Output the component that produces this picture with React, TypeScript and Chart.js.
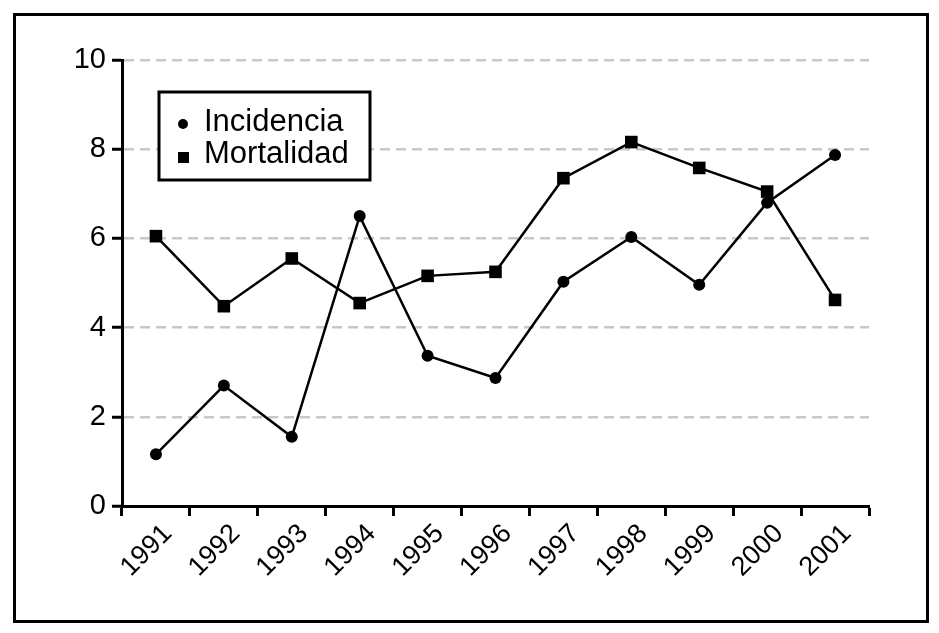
import React, { useEffect, useRef } from "react";
import { Chart, registerables } from "chart.js";

Chart.register(...registerables);

const years = ["1991", "1992", "1993", "1994", "1995", "1996", "1997", "1998", "1999", "2000", "2001"];
const incidencia = [1.16, 2.7, 1.55, 6.5, 3.37, 2.87, 5.03, 6.03, 4.96, 6.8, 7.87];
const mortalidad = [6.05, 4.48, 5.55, 4.55, 5.16, 5.25, 7.35, 8.16, 7.58, 7.05, 4.62];
const yTicks = [0, 2, 4, 6, 8, 10];

const FONT = "'Liberation Sans', Arial, Helvetica, sans-serif";

const framePlugin = {
  id: "frame",
  afterDraw(chart: any) {
    const ctx = chart.ctx;
    ctx.save();
    // outer border
    ctx.strokeStyle = "#000";
    ctx.lineWidth = 3;
    ctx.strokeRect(14.5, 14.5, 913, 607);
    // legend box
    ctx.lineWidth = 3;
    ctx.fillStyle = "#fff";
    ctx.fillRect(159, 92, 211, 88);
    ctx.strokeRect(159, 92, 211, 88);
    ctx.fillStyle = "#000";
    ctx.font = "31px " + FONT;
    ctx.textBaseline = "alphabetic";
    ctx.textAlign = "left";
    const ds = chart.data.datasets;
    // circle
    ctx.beginPath();
    ctx.arc(183, 124, 5, 0, Math.PI * 2);
    ctx.fill();
    ctx.fillText(ds[0].label, 204, 131);
    // square
    ctx.fillRect(178, 152, 11, 11);
    ctx.fillText(ds[1].label, 204, 163);
    ctx.restore();
  },
};

export default function App() {
  const ref = useRef<HTMLCanvasElement>(null);
  useEffect(() => {
    const chart = new Chart(ref.current!, {
      type: "line",
      data: {
        labels: years,
        datasets: [
          {
            label: "Incidencia",
            data: incidencia,
            borderColor: "#000",
            backgroundColor: "#000",
            borderWidth: 2.5,
            pointStyle: "circle",
            pointRadius: 6,
            pointBorderWidth: 0,
            tension: 0,
          },
          {
            label: "Mortalidad",
            data: mortalidad,
            borderColor: "#000",
            backgroundColor: "#000",
            borderWidth: 2.5,
            pointStyle: "rect",
            pointRadius: 8.9,
            pointBorderWidth: 0,
            tension: 0,
          },
        ],
      },
      options: {
        animation: false,
        responsive: false,
        layout: { padding: { left: 0, right: 70, top: 60, bottom: 0 } },
        plugins: { legend: { display: false }, tooltip: { enabled: false } },
        scales: {
          x: {
            offset: true,
            grid: {
              offset: true,
              drawOnChartArea: false,
              tickLength: 10,
              tickColor: "#000",
              tickWidth: 3,
            },
            border: { color: "#000", width: 3 },
            ticks: {
              color: "#000",
              font: { size: 27, family: FONT },
              minRotation: 45,
              maxRotation: 45,
              padding: 2,
              labelOffset: 12,
            },
            afterFit: (s: any) => {
              s.height = 127;
            },
          },
          y: {
            min: 0,
            max: 10,
            afterBuildTicks: (s: any) => {
              s.ticks = yTicks.map((v) => ({ value: v }));
            },
            grid: {
              color: (c: any) => (c.tick && c.tick.value === 0 ? "rgba(0,0,0,0)" : "#c8c8c8"),
              lineWidth: 2.5,
              tickLength: 10,
              tickColor: "#000",
              tickWidth: 3,
              tickBorderDash: [],
            } as any,
            border: { color: "#000", width: 3, dash: [10, 6] } as any,
            ticks: {
              color: "#000",
              font: { size: 29, family: FONT },
              padding: 6,
            },
            afterFit: (s: any) => {
              s.width = 122;
            },
          },
        },
      },
      plugins: [framePlugin],
    });
    return () => chart.destroy();
  }, []);
  return (
    <div style={{ position: "fixed", left: 0, top: 0, width: 939, height: 633, background: "#fff" }}>
      <canvas ref={ref} width={939} height={633} style={{ display: "block" }} />
    </div>
  );
}
